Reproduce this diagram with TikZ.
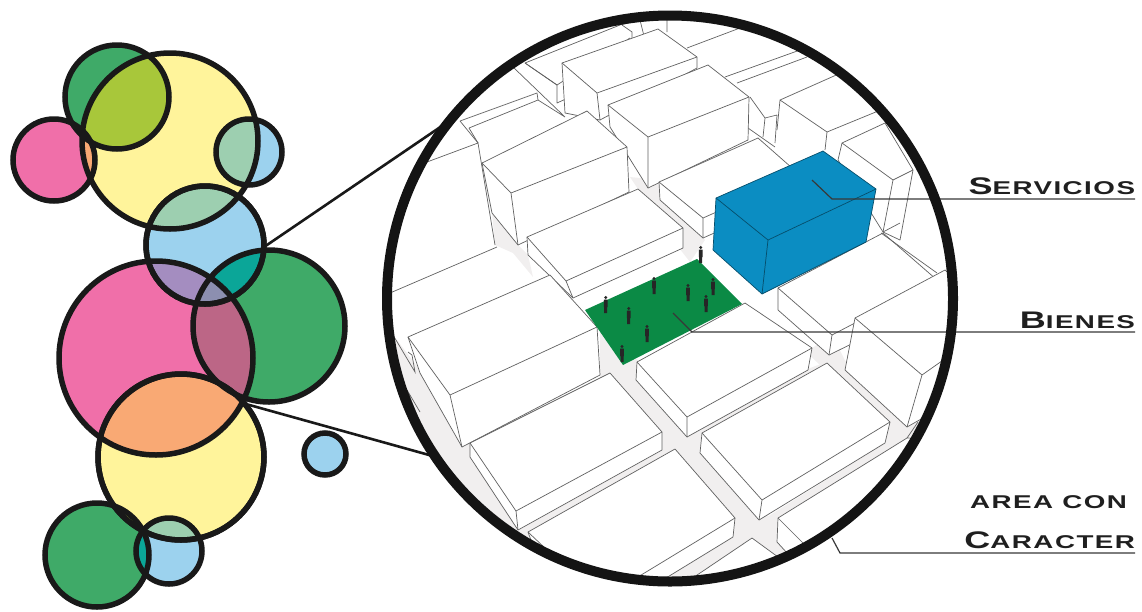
\documentclass[tikz,border=0pt]{standalone}
\usepackage{fontspec}
\newfontfamily\labelfont[FakeStretch=1.5,LetterSpace=8,BoldFont={Liberation Sans Bold},BoldFeatures={FakeStretch=1.5,LetterSpace=8}]{Liberation Sans}
\definecolor{cyel}{HTML}{FFF49B}
\definecolor{cpink}{HTML}{F06FA9}
\definecolor{cgreen}{HTML}{3FAA68}
\definecolor{cblue}{HTML}{9CD2EE}
\definecolor{colive}{HTML}{A8C73A}
\definecolor{corange}{HTML}{F9A974}
\definecolor{cmint}{HTML}{9DCFB0}
\definecolor{cviolet}{HTML}{A48DC0}
\definecolor{cteal}{HTML}{0BA698}
\definecolor{crose}{HTML}{BC6686}
\definecolor{cgrey}{HTML}{8C8FB0}
\definecolor{street}{HTML}{F1EFEF}
\definecolor{boxblue}{HTML}{0B8DC2}
\definecolor{patch}{HTML}{0B8A45}
\def\GT{(117,97) circle[radius=52]}
\def\YT{(170,141) circle[radius=88]}
\def\PS{(54,160) circle[radius=41]}
\def\BS{(249,152) circle[radius=33]}
\def\BM{(205,245) circle[radius=59]}
\def\PL{(156,358) circle[radius=97]}
\def\GL{(269,326) circle[radius=76]}
\def\YL{(181,457) circle[radius=83]}
\def\GB{(97,555) circle[radius=52]}
\def\BB{(169,551) circle[radius=33]}
\newcommand\ovl[3]{\begin{scope}\clip #1;\fill[#3] #2;\end{scope}}
\newcommand\blk[7]{\draw[edge] (#1)--(#2)--(#3)--(#7)--(#6)--(#5)--cycle;\draw[edge,fill=none] (#1)--(#4)--(#3) (#4)--(#6);}
\newcommand\person[1]{\fill[black!85,shift={(#1)}] (0,-15.5) circle[radius=1.6] (-1.8,-13.4) rectangle (1.8,-6) (-1.5,-6) rectangle (1.5,0);}
\tikzset{
 bub/.style={circle,draw=black!90,line width=5.5pt,inner sep=0pt,outer sep=0pt},
 edge/.style={draw=black!62,line width=.7pt,fill=white,line join=round},
 thin edge/.style={draw=black!62,line width=.7pt},
 leader/.style={draw=black!78,line width=1.2pt},
 link/.style={draw=black!90,line width=2.6pt},
 lab/.style={inner sep=0pt,outer sep=0pt,anchor=base east,text=black!88,font=\labelfont\bfseries}
}
\begin{document}
\begin{tikzpicture}[x=1pt,y=-1pt]
\useasboundingbox (0,0) rectangle (1142,611);
% bubble fills
\fill[cgreen] \GT; \fill[cyel] \YT; \fill[cpink] \PS; \fill[cblue] \BS; \fill[cblue] \BM;
\fill[cpink] \PL; \fill[cgreen] \GL; \fill[cyel] \YL; \fill[cgreen] \GB; \fill[cblue] \BB;
\ovl{\GT}{\YT}{colive}
\ovl{\PS}{\YT}{corange}
\ovl{\BS}{\YT}{cmint}
\ovl{\BM}{\YT}{cmint}
\ovl{\BM}{\PL}{cviolet}
\ovl{\BM}{\GL}{cteal}
\ovl{\PL}{\GL}{crose}
\begin{scope}\clip \BM;\clip \PL;\fill[cgrey] \GL;\end{scope}
\ovl{\PL}{\YL}{corange}
\ovl{\GB}{\YL}{colive}
\ovl{\BB}{\YL}{cmint}
\ovl{\BB}{\GB}{cteal}
% links (under the lens outline)
\node[bub,minimum size=118pt] (bm) at (205,245) {};
\node[bub,minimum size=166pt] (yl) at (181,457) {};
\node[circle,minimum size=566pt,inner sep=0pt,outer sep=0pt] (lens) at (670,298.5) {};
\draw[link] (bm.-2) -- (lens.141);
\draw[link] (yl.40) -- (lens.214);
% city
\begin{scope}
\clip (670,298.5) circle[radius=283];
\fill[street] (600,325)--(640,362)--(830,590)--(770,590)--(600,378)--cycle;
\fill[street] (393,335)--(420,370)--(470,445)--(530,535)--(500,565)--(420,470)--(385,350)--cycle;
\fill[street] (687,437)--(810,368)--(832,360)--(702,436)--cycle;
\fill[street] (518,530)--(662,450)--(680,449)--(528,534)--cycle;
\fill[street] (759,522)--(885,443)--(910,436)--(778,520)--cycle;
\fill[street] (806,352)--(832,335)--(850,370)--(910,425)--(950,395)--(905,442)--(885,445)--(820,365)--cycle;
\fill[street] (640,578)--(735,518)--(778,518)--(780,545)--(805,575)--(760,590)--(750,540)--(693,580)--cycle;
\fill[street] (492,213)--(518,245)--(528,255)--(533,277)--(513,253)--(495,245)--cycle;
\fill[street] (630,177)--(660,180)--(705,240)--(690,262)--(665,230)--cycle;
% far background
\draw[thin edge] (427,162)--(478,143)--(495,245) (497,247)--(390,293);
\draw[thin edge] (460,121)--(478,143);
\draw[thin edge] (460,121)--(537,93)--(538,100)--(469,128);
\draw[thin edge] (469,128)--(478,143);
\draw[thin edge] (538,100)--(565,117) (513,67)--(565,117);
\draw[edge] (525,63)--(620,25)--(640,20)--(650,60)--(557,103)--(557,85)--cycle;
\draw[thin edge] (525,63)--(557,85)--(630,38);
\draw[thin edge] (622,25)--(632,32)--(632,38) (667,20)--(667,32);
\draw[thin edge] (687,48)--(740,28);
\draw[thin edge] (725,77)--(800,50) (737,83)--(807,57);
\draw[thin edge] (750,97)--(765,118)--(777,115) (765,118)--(763,137) (777,115)--(775,143) (748,128)--(775,147);
\blk{562,63}{658,29}{697,57}{597,93}{565,113}{600,120}{697,68}
% block behind the blue box, its far corner past the lens
\fill[white] (780,100)--(870,60)--(905,100)--(870,150)--(825,150)--(777,135)--cycle;
\draw[thin edge] (777,130)--(780,100)--(870,60) (780,100)--(827,132)--(905,100) (827,132)--(825,150);
\blk{842,143}{885,123}{913,170}{893,180}{838,160}{883,232}{900,240}
\draw[thin edge] (883,232)--(900,223);
\blk{608,105}{708,65}{749,97}{648,137}{610,127}{648,188}{748,140}
\blk{659,182}{758,138}{800,175}{703,218}{660,200}{703,238}{800,195}
\blk{482,163}{587,111}{627,147}{511,193}{492,213}{518,245}{629,192}
\blk{527,237}{638,189}{683,228}{566,281}{528,255}{573,298}{683,248}
% right side blocks
\blk{778,288}{883,233}{937,280}{832,335}{778,310}{829,355}{880,330}
\draw[thin edge] (881,233)--(937,273);
\blk{855,318}{945,270}{1000,320}{922,375}{845,370}{907,427}{990,380}
% front blocks
\blk{408,337}{550,275}{597,327}{450,395}{420,373}{462,447}{600,375}
\blk{637,362}{745,303}{812,348}{687,417}{636,380}{687,437}{808,370}
\blk{470,443}{610,373}{662,432}{516,511}{470,457}{518,530}{662,450}
\blk{702,433}{827,363}{890,422}{762,500}{700,453}{759,520}{885,443}
\blk{528,532}{675,449}{735,518}{600,600}{560,620}{630,600}{733,537}
\draw[edge] (778,518)--(907,438)--(960,440)--(960,600)--(830,600)--(777,542)--cycle;
\draw[thin edge] (778,518)--(830,570) (907,438)--(918,422);
\draw[edge] (660,600)--(752,538)--(830,595)--cycle;
% small left pieces
\draw[thin edge] (393,335)--(415,372)--(412,355)--(408,352) (407,390)--(423,430) (407,390)--(420,412);
% green patch
\fill[patch] (585,310)--(697,259)--(742,304)--(623,365)--cycle;
\person{700.7,263}\person{654,294}\person{605.7,313}\person{628.7,324}\person{647,342}\person{622,362}\person{688,301}\person{713,295}\person{706,312}
% blue box
\draw[fill=boxblue,draw=boxblue!55!black,line width=.7pt,line join=round] (716,198)--(823,151)--(876,189)--(866,242)--(762,294)--(713,250)--cycle;
\draw[draw=boxblue!55!black,line width=.7pt] (716,198)--(768,240)--(876,189) (768,240)--(762,294);
\end{scope}
% leaders
\coordinate (sv1) at (812,180);
\coordinate (sv2) at (832,199);
\coordinate (sv3) at (1135,199);
\coordinate (bi1) at (673,313);
\coordinate (bi2) at (692,332);
\coordinate (bi3) at (1135,332);
\coordinate (ca1) at (832,538);
\coordinate (ca2) at (840,553);
\coordinate (ca3) at (1135,553);
\draw[leader] (sv1)--(sv2)--(sv3);
\draw[leader] (bi1)--(bi2)--(bi3);
\draw[leader] (ca1)--(ca2)--(ca3);
% outlines
\node[circle,draw=black!92,line width=10pt,minimum size=566pt,inner sep=0pt,outer sep=0pt] (lensring) at (670,298.5) {};
\node[bub,minimum size=104pt] (gt) at (117,97) {};
\node[bub,minimum size=176pt] (yt) at (170,141) {};
\node[bub,minimum size=82pt] (ps) at (54,160) {};
\node[bub,minimum size=66pt] (bs) at (249,152) {};
\node[bub,minimum size=194pt] (pl) at (156,358) {};
\node[bub,minimum size=152pt] (gl) at (269,326) {};
\node[bub,minimum size=104pt] (gb) at (97,555) {};
\node[bub,minimum size=66pt] (bb) at (169,551) {};
\node[bub,minimum size=42pt,fill=cblue] (iso) at (325,454) {};
\node[bub,minimum size=118pt] (bm2) at (205,245) {};
\node[bub,minimum size=166pt] (yl2) at (181,457) {};
% labels
\node[lab] (l1) at (1135,194) {\fontsize{24}{24}\selectfont S\fontsize{18.5}{18.5}\selectfont ERVICIOS};
\node[lab] (l2) at (1135,328) {\fontsize{24}{24}\selectfont B\fontsize{18.5}{18.5}\selectfont IENES};
\node[lab] (l3) at (1127,508) {\fontsize{18.5}{18.5}\selectfont AREA CON};
\node[lab] (l4) at (1135,548) {\fontsize{24}{24}\selectfont C\fontsize{18.5}{18.5}\selectfont ARACTER};
\end{tikzpicture}
\end{document}
